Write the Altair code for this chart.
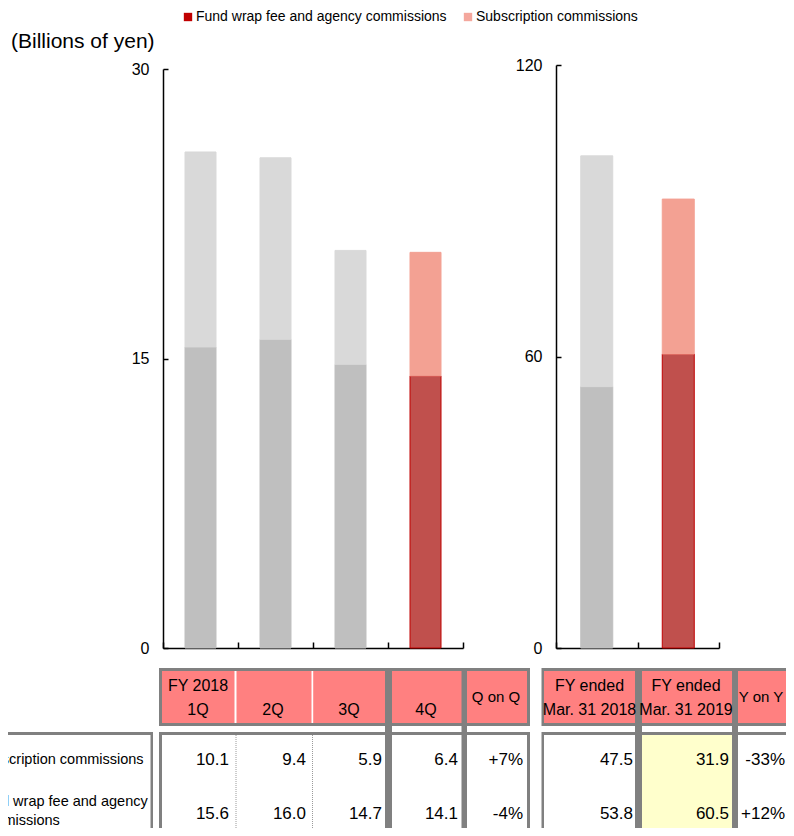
import altair as alt
import pandas as pd

# ---------------- data ----------------
quarters = ['1Q', '2Q', '3Q', '4Q']
sub_q = [10.1, 9.4, 5.9, 6.4]
fund_q = [15.6, 16.0, 14.7, 14.1]
qoq = ['+7%', '-4%']

years = ['FY2017', 'FY2018']
sub_y = [47.5, 31.9]
fund_y = [53.8, 60.5]
yoy = ['-33%', '+12%']

series = ['Fund wrap fee and agency commissions', 'Subscription commissions']
row_labels = [['Subscription commissions'], ['Fund wrap fee and agency', 'commissions']]
header_left = [['FY 2018', '1Q'], ['2Q'], ['3Q'], ['4Q'], ['Q on Q']]
header_right = [['FY ended', 'Mar. 31 2018'], ['FY ended', 'Mar. 31 2019'], ['Y on Y']]

# ---------------- layout (image pixels) ----------------
OFF = 8
def px(v):
    return v - OFF

W, H = 778, 820
GREY = '#808080'
PINK = '#ff8080'
YELLOW = '#ffffcc'
keys = ['past_fund', 'past_sub', 'cur_fund', 'cur_sub']
fills = ['#bfbfbf', '#d9d9d9', '#c0504d', '#f3a193']
strokes = ['#bfbfbf', '#d9d9d9', '#c00000', '#f3a193']


def stack_rows(periods, fund, sub):
    rows = []
    for i, p in enumerate(periods):
        cur = i == len(periods) - 1
        rows.append(dict(period=p, start=0.0, end=fund[i], key='cur_fund' if cur else 'past_fund'))
        rows.append(dict(period=p, start=fund[i], end=fund[i] + sub[i], key='cur_sub' if cur else 'past_sub'))
    return pd.DataFrame(rows)


df_left = stack_rows(quarters, fund_q, sub_q)
df_right = stack_rows(years, fund_y, sub_y)

axis_common = dict(title=None, grid=False, domainColor='black', domainWidth=1.5,
                   tickColor='black', tickWidth=1.5, labelColor='black',
                   labelFont='Liberation Sans')


def bar_layer(df, domain, xr, ymax, ytop, width, yvals, yaxis_x):
    xaxis = alt.Axis(orient='top', offset=-px(648), labels=False, tickBand='extent',
                     tickSize=6, **axis_common)
    yaxis = alt.Axis(orient='right', offset=px(yaxis_x) - W, values=yvals, tickSize=5,
                     labelAlign='right', labelPadding=-19, labelFontSize=16, **axis_common)
    return alt.Chart(df).mark_bar(width=width, strokeWidth=1).encode(
        x=alt.X('period:N', sort=domain,
                scale=alt.Scale(domain=domain, range=[px(xr[0]), px(xr[1])],
                                paddingInner=0, paddingOuter=0),
                axis=xaxis),
        y=alt.Y('start:Q', scale=alt.Scale(domain=[0, ymax], range=[px(648), px(ytop)],
                                           nice=False, zero=True),
                axis=yaxis),
        y2='end:Q',
        color=alt.Color('key:N', scale=alt.Scale(domain=keys, range=fills), legend=None),
        stroke=alt.Stroke('key:N', scale=alt.Scale(domain=keys, range=strokes), legend=None),
    )


left_bars = bar_layer(df_left, quarters, (163, 463), 30, 69, 31, [0, 15, 30], 163)
right_bars = bar_layer(df_right, years, (556, 719), 120, 65, 32, [0, 60, 120], 556)

# legend
legend_df = pd.DataFrame({'s': series})
legend_layer = alt.Chart(legend_df).mark_square(opacity=0, size=0).encode(
    color=alt.Color('s:N', scale=alt.Scale(domain=series, range=['#c00000', '#f4a79d']),
                    legend=alt.Legend(orient='none', legendX=px(181), legendY=px(10),
                                      direction='horizontal', title=None,
                                      symbolType='square', symbolSize=70,
                                      symbolStrokeWidth=0, symbolOpacity=1,
                                      labelFontSize=14, labelFont='Liberation Sans',
                                      labelColor='black', labelOffset=1, labelLimit=500,
                                      columnPadding=14, padding=0))
)

# title text
title_df = pd.DataFrame({'t': ['(Billions of yen)']})
title_layer = alt.Chart(title_df).mark_text(align='left', baseline='middle', fontSize=21,
                                            font='Liberation Sans', color='black').encode(
    x=alt.value(px(11)), y=alt.value(px(42)), text='t:N')

# ---------------- table decoration ----------------
BOT = 850
rects = [
    # left header
    (159, 530, 668, 726, GREY), (162, 527, 671, 723, PINK),
    (234.5, 236.5, 671, 723, 'white'), (311.5, 313.2, 671, 723, 'white'),
    # left body
    (159, 530, 732, BOT, GREY), (162, 527, 735, BOT, 'white'),
    # row-label box
    (-30, 153, 732, BOT, GREY), (-30, 150.5, 735, BOT, 'white'),
    # right header
    (541.5, 820, 668, 726, GREY), (544, 820, 671, 723, PINK),
    # right body
    (541.5, 820, 732, BOT, GREY), (544, 820, 735, BOT, 'white'),
    (642, 732, 735, BOT, YELLOW),
    # thick column dividers
    (385, 392, 668, BOT, GREY), (461.5, 467, 668, BOT, GREY),
    (635, 642, 668, BOT, GREY), (732, 738, 668, BOT, GREY),
]
rect_df = pd.DataFrame([dict(x1=px(a), x2=px(b), y1=px(c), y2=px(d), f=e, o=i)
                        for i, (a, b, c, d, e) in enumerate(rects)])
rect_layer = alt.Chart(rect_df).mark_rect().encode(
    x=alt.X('x1:Q', scale=None, axis=None), x2='x2:Q',
    y=alt.Y('y1:Q', scale=None, axis=None), y2='y2:Q',
    fill=alt.Fill('f:N', scale=None), order='o:Q')

dots_df = pd.DataFrame({'x': [px(236), px(312.5)], 'y1': [px(735)] * 2, 'y2': [px(BOT)] * 2})
dots_layer = alt.Chart(dots_df).mark_rule(strokeDash=[1, 1], color='#9a9a9a', strokeWidth=1).encode(
    x=alt.X('x:Q', scale=None, axis=None), y=alt.Y('y1:Q', scale=None, axis=None), y2='y2:Q')

# header text
hl_cx = [198, 273, 349, 426, 496]
hr_cx = [589.5, 686, 761]
head_rows = []
for labels, cx in list(zip(header_left, hl_cx)) + list(zip(header_right, hr_cx)):
    if len(labels) == 2:
        head_rows.append(dict(x=px(cx), y=px(686), t=labels[0], s=16))
        head_rows.append(dict(x=px(cx), y=px(710), t=labels[1], s=16))
    elif labels[0] in ('Q on Q', 'Y on Y'):
        head_rows.append(dict(x=px(cx), y=px(697), t=labels[0], s=15))
    else:
        head_rows.append(dict(x=px(cx), y=px(710), t=labels[0], s=16))
head_layer = alt.Chart(pd.DataFrame(head_rows)).mark_text(
    align='center', baseline='middle', font='Liberation Sans', color='black').encode(
    x=alt.X('x:Q', scale=None, axis=None), y=alt.Y('y:Q', scale=None, axis=None), text='t:N',
    size=alt.Size('s:Q', scale=None, legend=None))

# values
col_right = [229, 306, 382, 458, 523, 633, 729, 785]
row_y = [760, 814]
val_rows = []
for r, vals in enumerate([sub_q + [qoq[0]] + sub_y + [yoy[0]],
                          fund_q + [qoq[1]] + fund_y + [yoy[1]]]):
    for c, v in enumerate(vals):
        t = f'{v:.1f}' if isinstance(v, float) else v
        val_rows.append(dict(x=px(col_right[c]), y=px(row_y[r]), t=t))
val_layer = alt.Chart(pd.DataFrame(val_rows)).mark_text(
    align='right', baseline='middle', fontSize=17, font='Liberation Sans', color='black').encode(
    x=alt.X('x:Q', scale=None, axis=None), y=alt.Y('y:Q', scale=None, axis=None), text='t:N')

# row labels
lab_rows = [dict(x=px(-24), y=px(760), t=row_labels[0][0]),
            dict(x=px(-24), y=px(802), t=row_labels[1][0]),
            dict(x=px(-24), y=px(821), t=row_labels[1][1])]
lab_layer = alt.Chart(pd.DataFrame(lab_rows)).mark_text(
    align='left', baseline='middle', fontSize=14.5, font='Liberation Sans', color='black').encode(
    x=alt.X('x:Q', scale=None, axis=None), y=alt.Y('y:Q', scale=None, axis=None), text='t:N')

chart = alt.layer(
    rect_layer, dots_layer, left_bars, right_bars, legend_layer, title_layer,
    head_layer, val_layer, lab_layer
).resolve_scale(
    x='independent', y='independent', color='independent', stroke='independent',
    size='independent'
).properties(
    width=W, height=H, autosize=alt.AutoSizeParams(type='none'), padding=0
).configure(font='Liberation Sans').configure_view(stroke=None)

chart.save('out.html', embed_options={'renderer': 'svg', 'actions': False})
